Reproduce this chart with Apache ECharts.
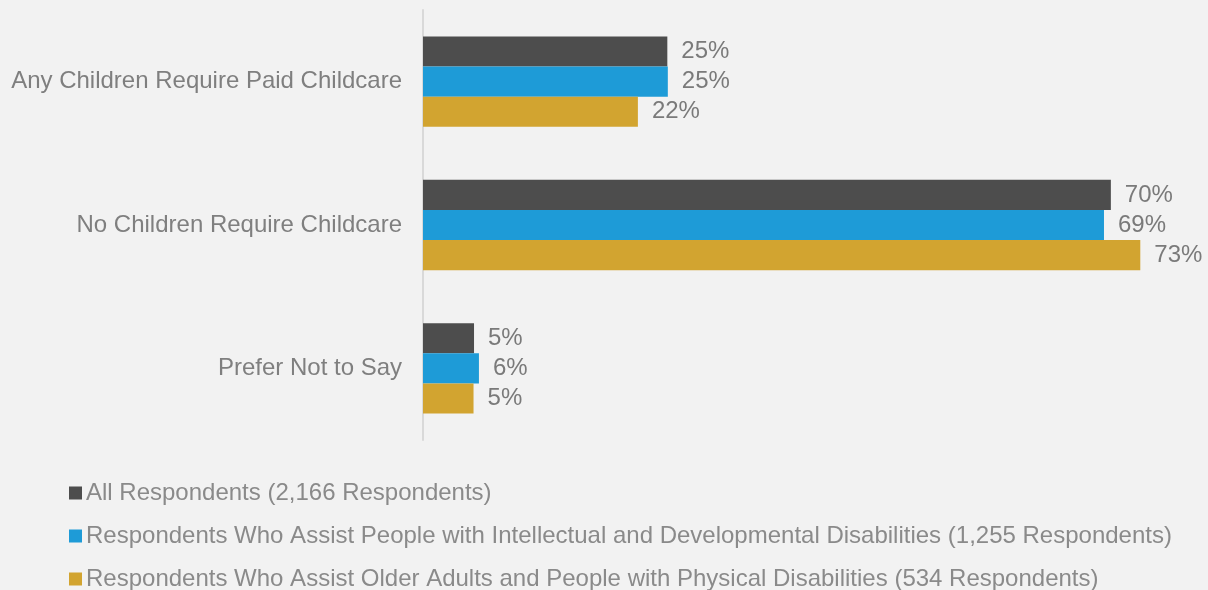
<!DOCTYPE html>
<html><head><meta charset="utf-8">
<script src="https://cdn.jsdelivr.net/npm/echarts@6/dist/echarts.min.js"></script>
<style>html,body{margin:0;padding:0;background:#f2f2f2}#c{width:1208px;height:590px}</style>
</head><body><div id="c"></div>
<script>
const categories = ["Any Children Require Paid Childcare", "No Children Require Childcare", "Prefer Not to Say"];
const seriesNames = ["All Respondents (2,166 Respondents)",
  "Respondents Who Assist People with Intellectual and Developmental Disabilities (1,255 Respondents)",
  "Respondents Who Assist Older Adults and People with Physical Disabilities (534 Respondents)"];
const allResp = [24.9, 70.1, 5.2];
const iddResp = [24.95, 69.4, 5.7];
const olderResp = [21.9, 73.1, 5.15];
const colors = ["#4d4d4d", "#1e9bd7", "#d2a430"];
const font = "Liberation Sans, Arial, sans-serif";
const chart = echarts.init(document.getElementById('c'));
const mk = (name, data, i) => ({
  name, type: 'bar', data, barGap: '0%', barCategoryGap: '37%',
  itemStyle: {color: colors[i]},
  label: {show: true, position: 'right', distance: 14, color: '#7a7a7a', fontSize: 24, fontFamily: font,
    formatter: p => Math.round(p.value) + '%'}
});
const legendTops = [481, 524, 567];
chart.setOption({
  backgroundColor: '#f2f2f2',
  animation: false,
  grid: {left: 423, right: 0, top: 10, bottom: 150},
  xAxis: {type: 'value', min: 0, max: 80, show: false},
  yAxis: {type: 'category', data: categories, inverse: true,
    axisLine: {lineStyle: {color: '#d9d9d9', width: 2}}, axisTick: {show: false},
    axisLabel: {color: '#7f7f7f', fontSize: 24, fontFamily: font, margin: 21}},
  legend: seriesNames.map((n, i) => ({
    orient: 'horizontal', left: 69, top: legendTops[i], padding: 0, itemWidth: 13, itemHeight: 13,
    icon: 'rect', textStyle: {color: '#8a8a8a', fontSize: 24, fontFamily: font, lineHeight: 24, padding: [0,0,0,-1]},
    data: [n]})),
  series: [mk(seriesNames[0], allResp, 0), mk(seriesNames[1], iddResp, 1), mk(seriesNames[2], olderResp, 2)]
});
</script></body></html>
